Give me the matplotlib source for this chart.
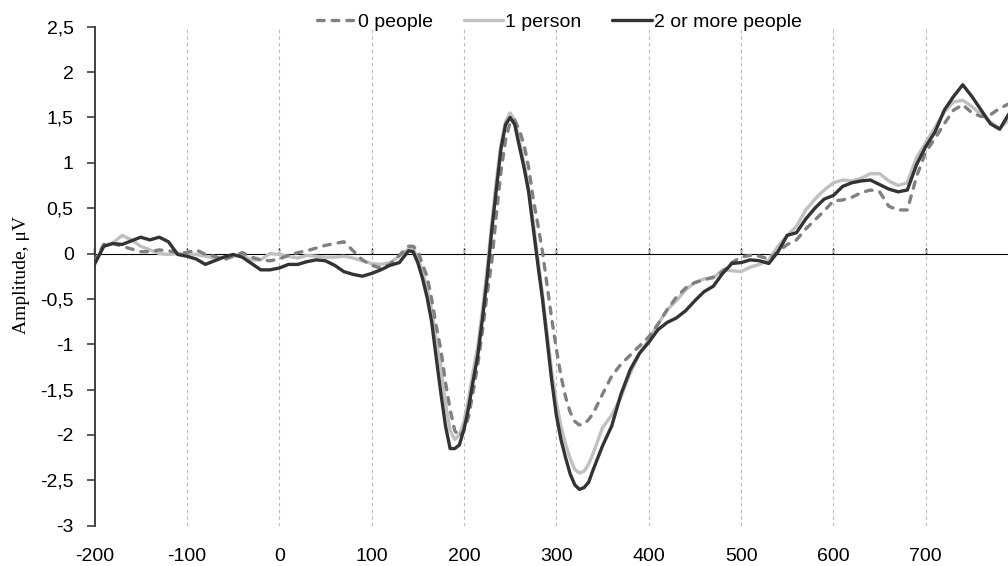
import numpy as np
import matplotlib
matplotlib.use("Agg")
import matplotlib.pyplot as plt
from matplotlib.ticker import FixedLocator, FixedFormatter

# ---------------- data ----------------
time_ms = (list(range(-200, 141, 10)) + list(range(145, 341, 5)) + list(range(350, 791, 10)))

amp_0_people = [
    -0.10, 0.10, 0.11, 0.08, 0.05, 0.02, 0.02, 0.04, 0.03, 0.01,
    0.01, 0.04, -0.01, -0.03, -0.07, -0.03, 0.01, -0.04, -0.07, -0.08,
    -0.06, -0.02, 0.01, 0.03, 0.06, 0.09, 0.11, 0.13, 0.03, -0.07,
    -0.13, -0.16, -0.12, -0.02, 0.08,
    # 145..340 step 5
    0.08, 0.03, -0.12, -0.25, -0.50, -0.80, -1.06, -1.42, -1.72, -1.95,
    -2.02, -1.95, -1.80, -1.52, -1.22, -0.85, -0.45, -0.10, 0.42, 0.90,
    1.25, 1.45, 1.47, 1.36, 1.20, 0.95, 0.60, 0.32, 0.02, -0.35,
    -0.72, -1.05, -1.35, -1.58, -1.75, -1.85, -1.89, -1.88, -1.83, -1.76,
    # 350..790 step 10
    -1.55, -1.35, -1.22, -1.12, -1.02, -0.92, -0.78, -0.62, -0.48, -0.38,
    -0.32, -0.29, -0.26, -0.20, -0.10, -0.04, -0.02, -0.03, -0.06, 0.02,
    0.10, 0.15, 0.27, 0.37, 0.47, 0.58, 0.59, 0.62, 0.67, 0.70,
    0.68, 0.52, 0.48, 0.48, 0.85, 1.12, 1.27, 1.43, 1.58, 1.64,
    1.55, 1.51, 1.53, 1.60, 1.65,
]

amp_1_person = [
    -0.10, 0.08, 0.12, 0.20, 0.15, 0.08, 0.04, 0.00, -0.01, 0.00,
    0.00, -0.01, -0.03, -0.05, -0.04, -0.03, -0.02, -0.07, -0.07, 0.00,
    -0.01, -0.03, -0.05, -0.02, -0.03, -0.04, -0.04, -0.03, -0.05, -0.08,
    -0.11, -0.12, -0.10, -0.03, 0.05,
    # 145..340 step 5
    0.05, -0.05, -0.20, -0.38, -0.62, -0.95, -1.25, -1.65, -1.95, -2.05,
    -2.00, -1.85, -1.60, -1.30, -1.02, -0.62, -0.18, 0.32, 0.80, 1.20,
    1.45, 1.55, 1.47, 1.25, 1.00, 0.72, 0.35, -0.05, -0.45, -0.88,
    -1.30, -1.64, -1.90, -2.10, -2.26, -2.38, -2.42, -2.40, -2.32, -2.20,
    # 350..790 step 10
    -1.92, -1.78, -1.58, -1.32, -1.10, -0.95, -0.78, -0.62, -0.52, -0.40,
    -0.32, -0.28, -0.27, -0.18, -0.19, -0.20, -0.15, -0.12, -0.07, 0.08,
    0.20, 0.30, 0.48, 0.60, 0.70, 0.78, 0.81, 0.80, 0.83, 0.88,
    0.88, 0.80, 0.75, 0.78, 1.06, 1.22, 1.39, 1.56, 1.67, 1.69,
    1.62, 1.53, 1.45, 1.38, 1.47,
]

amp_2_more = [
    -0.12, 0.08, 0.11, 0.10, 0.14, 0.18, 0.15, 0.18, 0.13, -0.01,
    -0.03, -0.06, -0.12, -0.08, -0.04, -0.01, -0.04, -0.11, -0.18, -0.18,
    -0.16, -0.12, -0.12, -0.09, -0.07, -0.08, -0.13, -0.20, -0.23, -0.25,
    -0.22, -0.18, -0.13, -0.10, 0.03,
    # 145..340 step 5
    0.02, -0.10, -0.27, -0.48, -0.75, -1.15, -1.54, -1.90, -2.15, -2.15,
    -2.11, -1.94, -1.70, -1.40, -1.12, -0.72, -0.28, 0.25, 0.70, 1.15,
    1.42, 1.50, 1.42, 1.18, 0.95, 0.68, 0.28, -0.12, -0.50, -0.95,
    -1.40, -1.78, -2.05, -2.25, -2.43, -2.55, -2.60, -2.58, -2.52, -2.38,
    # 350..790 step 10
    -2.12, -1.90, -1.55, -1.28, -1.10, -0.98, -0.84, -0.76, -0.71, -0.63,
    -0.52, -0.42, -0.36, -0.22, -0.11, -0.10, -0.07, -0.08, -0.11, 0.02,
    0.20, 0.23, 0.38, 0.50, 0.60, 0.64, 0.74, 0.78, 0.80, 0.81,
    0.76, 0.71, 0.68, 0.70, 0.98, 1.18, 1.34, 1.58, 1.73, 1.86,
    1.73, 1.58, 1.43, 1.37, 1.54,
]

series_labels = ["0 people", "1 person", "2 or more people"]
x_ticks = [-200, -100, 0, 100, 200, 300, 400, 500, 600, 700]
x_tick_labels = ["-200", "-100", "0", "100", "200", "300", "400", "500", "600", "700"]
y_ticks = [-3, -2.5, -2, -1.5, -1, -0.5, 0, 0.5, 1, 1.5, 2, 2.5]
y_tick_labels = ["-3", "-2,5", "-2", "-1,5", "-1", "-0,5", "0", "0,5", "1", "1,5", "2", "2,5"]
y_label = "Amplitude, μV"

# ---------------- plot ----------------
plt.rcParams["font.family"] = ["Liberation Sans", "DejaVu Sans"]

fig = plt.figure(figsize=(10.08, 5.66), dpi=100)
ax = fig.add_axes([94.5 / 1008, 1 - 525.7 / 566, 1 - 94.5 / 1008, (525.7 - 26.7) / 566])

x_min, x_max = -200, 789
y_min, y_max = -3, 2.5
ax.set_xlim(x_min, x_max)
ax.set_ylim(y_min, y_max)

# vertical gridlines
ax.xaxis.set_major_locator(FixedLocator(x_ticks))
ax.xaxis.set_major_formatter(FixedFormatter(x_tick_labels))
ax.grid(axis="x", color="#b8b8b8", linestyle=(0, (3, 3)), linewidth=0.8)
ax.set_axisbelow(True)

lw = 2.4
l1, = ax.plot(time_ms, amp_1_person, color="#c0c0c0", linewidth=lw,
              solid_joinstyle="round", solid_capstyle="round", zorder=3)
l0, = ax.plot(time_ms, amp_0_people, color="#808080", linewidth=lw,
              linestyle=(0, (2.0, 2.4)), dash_capstyle="round",
              dash_joinstyle="round", zorder=4)
l2, = ax.plot(time_ms, amp_2_more, color="#333333", linewidth=lw,
              solid_joinstyle="round", solid_capstyle="round", zorder=5)

# spines
for s in ["top", "right", "bottom"]:
    ax.spines[s].set_visible(False)
ax.spines["left"].set_color("#404040")
ax.spines["left"].set_linewidth(1.4)

# y axis
ax.yaxis.set_major_locator(FixedLocator(y_ticks))
ax.yaxis.set_major_formatter(FixedFormatter(y_tick_labels))
ax.tick_params(axis="y", direction="out", length=6, width=1.2, color="#404040",
               pad=9, labelsize=14, labelcolor="black")
# x axis labels at bottom without ticks
ax.tick_params(axis="x", length=0, pad=16, labelsize=14, labelcolor="black")

# zero axis line with tick marks
frac0 = (0 - y_min) / (y_max - y_min)
sec = ax.secondary_xaxis(frac0)
sec.xaxis.set_major_locator(FixedLocator(x_ticks))
sec.tick_params(axis="x", direction="out", length=4, width=1.0, color="black",
                labelbottom=False, labeltop=False)
sec.spines["bottom"].set_color("black")
sec.spines["bottom"].set_linewidth(1.0)
sec.spines["bottom"].set_zorder(2)

fig.text(22 / 1008, 1 - 275 / 566, y_label, rotation=90, ha="center", va="center",
         fontsize=14, family=["Liberation Serif", "DejaVu Serif"])

fig.legend([l0, l1, l2], series_labels, loc="center",
           bbox_to_anchor=(559 / 1008, 1 - 22 / 566), ncol=3, frameon=False,
           fontsize=14, handlelength=2.05, handletextpad=0.1, columnspacing=1.55,
           borderpad=0)

fig.savefig("out.png", dpi=100)
